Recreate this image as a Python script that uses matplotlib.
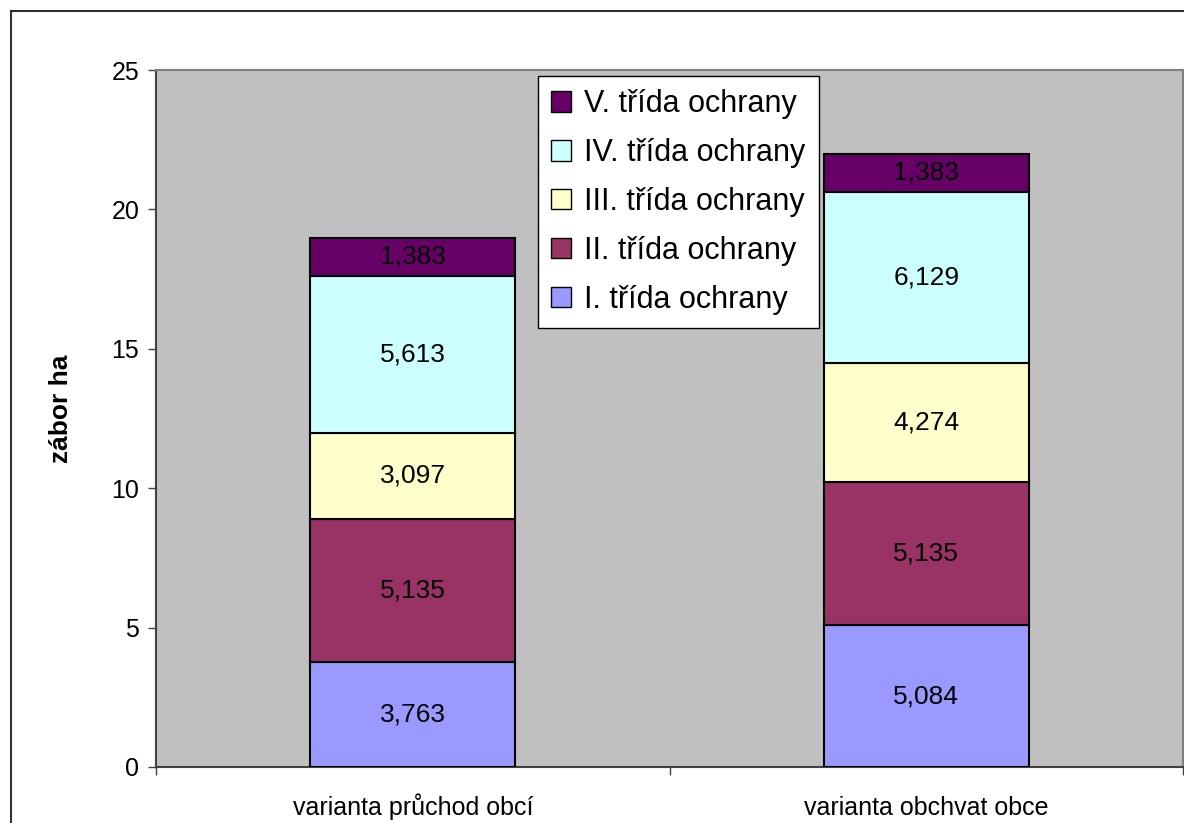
import matplotlib.pyplot as plt
from matplotlib.lines import Line2D

plt.rcParams["font.family"] = ["Liberation Sans", "DejaVu Sans"]

categories = ["varianta průchod obcí", "varianta obchvat obce"]
classes = [
    "I. třída ochrany",
    "II. třída ochrany",
    "III. třída ochrany",
    "IV. třída ochrany",
    "V. třída ochrany",
]
trida_1 = [3.763, 5.084]
trida_2 = [5.135, 5.135]
trida_3 = [3.097, 4.274]
trida_4 = [5.613, 6.129]
trida_5 = [1.383, 1.383]
series = [trida_1, trida_2, trida_3, trida_4, trida_5]
colors = ["#9999FF", "#993366", "#FFFFCC", "#CCFFFF", "#660066"]

fig = plt.figure(figsize=(11.84, 8.23), dpi=100)
ax = fig.add_axes([156 / 1184, 56 / 823, 1027 / 1184, 697 / 823])
ax.set_facecolor("#C0C0C0")

x = range(len(categories))
bottoms = [0.0] * len(categories)
for vals, col, name in zip(series, colors, classes):
    bars = ax.bar(
        x,
        vals,
        width=0.4,
        bottom=bottoms,
        color=col,
        edgecolor="black",
        linewidth=1.5,
        label=name,
        zorder=3,
    )
    for b, v, bt in zip(bars, vals, bottoms):
        ax.text(
            b.get_x() + b.get_width() / 2,
            bt + v / 2,
            f"{v:.3f}".replace(".", ","),
            ha="center",
            va="center",
            fontsize=19,
            zorder=4,
        )
    bottoms = [a + b for a, b in zip(bottoms, vals)]

ax.set_xlim(-0.5, 1.5)
ax.set_ylim(0, 25)
ax.set_yticks([0, 5, 10, 15, 20, 25])
ax.tick_params(axis="y", labelsize=18, length=6, width=1, color="#404040", pad=6)

ax.set_xticks([-0.5, 0.5, 1.5])
ax.set_xticklabels(["", "", ""])
ax.tick_params(axis="x", length=6, width=1, color="#404040")

# category labels on a common baseline
for i, cat in enumerate(categories):
    ax.text(
        i,
        -48 / 697,
        cat,
        transform=ax.get_xaxis_transform(),
        ha="center",
        va="baseline",
        fontsize=18,
    )

ax.set_ylabel("zábor ha", fontsize=19, fontweight="bold", labelpad=28)
ax.yaxis.label.set_y(0.514)

for side in ["left", "bottom"]:
    ax.spines[side].set_color("#404040")
    ax.spines[side].set_linewidth(1.5)
for side in ["top", "right"]:
    ax.spines[side].set_color("#808080")
    ax.spines[side].set_linewidth(1.5)

h, l = ax.get_legend_handles_labels()
leg = ax.legend(
    h[::-1],
    l[::-1],
    loc="upper left",
    bbox_to_anchor=(0.372, 0.991),
    fontsize=22,
    fancybox=False,
    framealpha=1,
    edgecolor="black",
    handlelength=0.65,
    handleheight=0.65,
    handletextpad=0.45,
    labelspacing=0.62,
    borderpad=0.42,
    borderaxespad=0,
)
leg.get_frame().set_linewidth(1)
for p in leg.get_patches():
    p.set_linewidth(1)

# outer chart border (cropped on right and bottom)
fig.add_artist(Line2D([11 / 1184, 11 / 1184], [0, 1 - 11 / 823], color="#303030", lw=1.5))
fig.add_artist(Line2D([11 / 1184, 1], [1 - 11 / 823, 1 - 11 / 823], color="#303030", lw=1.5))

fig.savefig("out.png", dpi=100)
